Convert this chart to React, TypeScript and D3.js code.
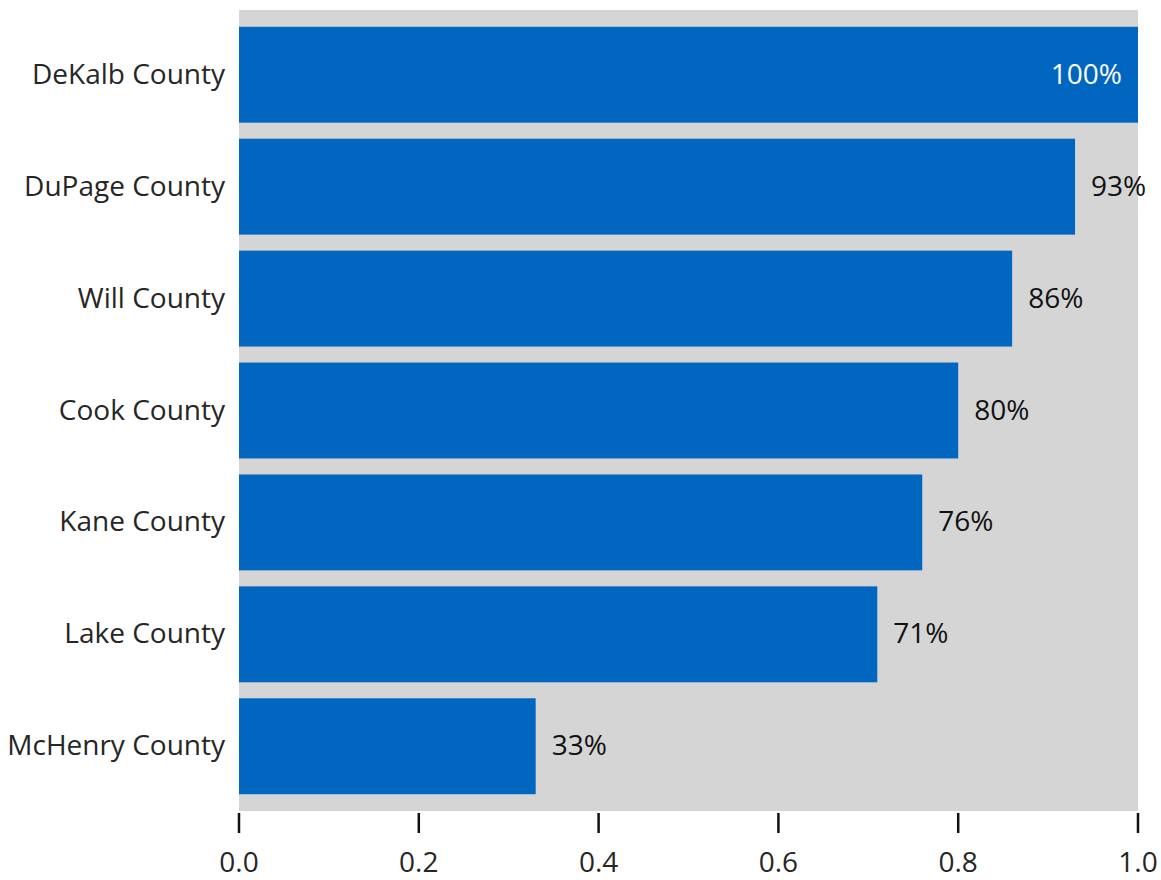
import React from "react";
import * as d3 from "d3";

const counties = ["DeKalb County", "DuPage County", "Will County", "Cook County", "Kane County", "Lake County", "McHenry County"];
const values = [1.0, 0.93, 0.86, 0.8, 0.76, 0.71, 0.33];
const labels = ["100%", "93%", "86%", "80%", "76%", "71%", "33%"];
const ticks = [0, 0.2, 0.4, 0.6, 0.8, 1.0];

const W = 1161, H = 880;
const left = 239, right = 1138, top = 10, bottom = 811;
const FONT = "'Open Sans', sans-serif";
const FS = 28;

export default function App() {
  const x = d3.scaleLinear().domain([0, 1]).range([left, right]);
  const y = d3.scaleBand<string>().domain(counties).range([top, bottom]).paddingInner(0.143).paddingOuter(0.15);
  return (
    <svg width={W} height={H} style={{ position: "absolute", left: 0, top: 0 }}>
      <rect x={left} y={top} width={right - left} height={bottom - top} fill="#D5D5D5" />
      {counties.map((c, i) => {
        const y0 = y(c)!;
        const bw = y.bandwidth();
        const inside = values[i] >= 0.99;
        return (
          <g key={c}>
            <rect x={x(0)} y={y0} width={x(values[i]) - x(0)} height={bw} fill="#0066BF" />
            <text x={left - 14} y={y0 + bw / 2 + 9} textAnchor="end" fontFamily={FONT} fontSize={FS} fill="#262626">{c}</text>
            <text
              x={inside ? x(values[i]) - 16 : x(values[i]) + 16}
              y={y0 + bw / 2 + 9}
              textAnchor={inside ? "end" : "start"}
              fontFamily={FONT}
              fontSize={FS}
              fill={inside ? "#fff" : "#111"}
            >{labels[i]}</text>
          </g>
        );
      })}
      {ticks.map((t) => (
        <g key={t}>
          <line x1={x(t)} x2={x(t)} y1={813} y2={833} stroke="#111" strokeWidth={2.5} />
          <text x={x(t)} y={872} textAnchor="middle" fontFamily={FONT} fontSize={FS} fill="#262626">{t.toFixed(1)}</text>
        </g>
      ))}
    </svg>
  );
}
